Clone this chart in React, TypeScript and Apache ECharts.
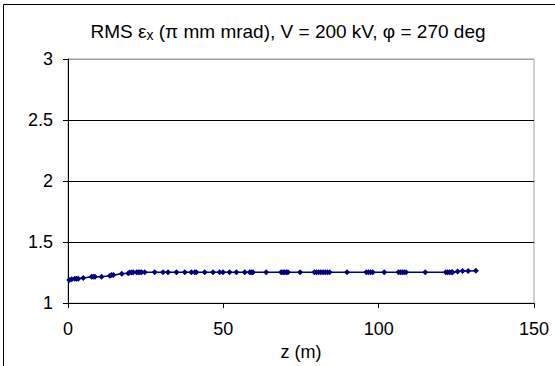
import React, { useEffect, useRef } from "react";
import * as echarts from "echarts";

const zValues = [
  0.4, 1.2, 2.2, 2.8, 3.3, 4.9, 7.6, 8.1, 8.7, 10.8, 13.5, 14.0, 14.6, 17.3, 19.4, 19.9,
  20.5, 21.0, 22.1, 22.6, 23.1, 23.7, 24.7, 27.9, 30.6, 32.2, 34.9, 37.6, 39.7, 40.8,
  41.3, 44.0, 46.7, 48.8, 49.9, 52.0, 54.2, 56.9, 58.5, 59.0, 59.5, 63.8, 68.6, 69.2,
  69.7, 70.3, 70.8, 74.7, 79.3, 80.0, 80.7, 81.4, 82.1, 82.8, 83.5, 84.2, 89.8, 96.0,
  96.7, 97.4, 98.1, 101.8, 106.4, 107.0, 107.6, 108.2, 108.8, 115.0, 121.6, 122.2,
  122.8, 123.4, 123.8, 125.4, 127.0, 128.8, 131.3,
];
const emittance = [
  1.19, 1.195, 1.2, 1.2, 1.2, 1.205, 1.215, 1.215, 1.215, 1.215, 1.225, 1.23, 1.23, 1.24,
  1.245, 1.25, 1.25, 1.252, 1.252, 1.252, 1.253, 1.253, 1.253, 1.253, 1.253, 1.253,
  1.253, 1.253, 1.253, 1.253, 1.253, 1.253, 1.253, 1.253, 1.253, 1.253, 1.253, 1.253,
  1.253, 1.253, 1.253, 1.253, 1.253, 1.253, 1.253, 1.253, 1.253, 1.253, 1.253, 1.253,
  1.253, 1.253, 1.253, 1.253, 1.253, 1.253, 1.253, 1.253, 1.253, 1.253, 1.253, 1.253,
  1.253, 1.253, 1.253, 1.253, 1.253, 1.253, 1.253, 1.253, 1.253, 1.253, 1.253, 1.258,
  1.262, 1.264, 1.265,
];
const xTicks = [0, 50, 100, 150];
const yTicks = [1, 1.5, 2, 2.5, 3];
const titleMain = "RMS ε";
const titleSub = "x";
const titleRest = " (π mm mrad), V = 200 kV, φ = 270 deg";
const xName = "z (m)";

const FONT = "'Liberation Sans', Arial, sans-serif";

export default function App() {
  const ref = useRef<HTMLDivElement>(null);
  useEffect(() => {
    document.body.style.margin = "0";
    if (!ref.current) return;
    const chart = echarts.init(ref.current, undefined, { renderer: "svg" });
    const data = zValues.map((z, i) => [z, emittance[i]]);
    chart.setOption({
      animation: false,
      backgroundColor: "#fff",
      textStyle: { fontFamily: FONT },
      grid: {
        left: 68,
        right: 21,
        top: 59,
        bottom: 55,
        show: true,
        borderColor: "#a0a0a0",
        borderWidth: 1,
        containLabel: false,
      },
      graphic: [
        {
          type: "rect",
          shape: { x: 3.5, y: 4.5, width: 600, height: 400 },
          style: { fill: "none", stroke: "#000", lineWidth: 1 },
          silent: true,
          z: 100,
        },
        {
          type: "text",
          x: 288,
          y: 31,
          style: {
            text: `{a|${titleMain}}{s|${titleSub}}{a|${titleRest}}`,
            align: "center",
            verticalAlign: "middle",
            fill: "#000",
            rich: {
              a: { fontSize: 19, fontFamily: FONT, fill: "#000", lineHeight: 22 },
              s: {
                fontSize: 14,
                fontFamily: FONT,
                fill: "#000",
                lineHeight: 22,
                padding: [7, 0, 0, 0],
              },
            },
          },
        },
      ],
      xAxis: {
        type: "value",
        min: xTicks[0],
        max: xTicks[xTicks.length - 1],
        interval: 50,
        name: xName,
        nameLocation: "middle",
        nameGap: 27,
        nameTextStyle: { fontSize: 18, color: "#000", fontFamily: FONT },
        axisLine: { show: true, onZero: false, lineStyle: { color: "#000", width: 1 } },
        axisTick: { show: true, inside: false, length: 5, lineStyle: { color: "#000" } },
        axisLabel: { fontSize: 18, color: "#000", margin: 17, fontFamily: FONT },
        splitLine: { show: false },
      },
      yAxis: {
        type: "value",
        min: yTicks[0],
        max: yTicks[yTicks.length - 1],
        interval: 0.5,
        axisLine: { show: true, onZero: false, lineStyle: { color: "#000", width: 1 } },
        axisTick: { show: true, inside: false, length: 5, lineStyle: { color: "#000" } },
        axisLabel: { fontSize: 18, color: "#000", margin: 15, fontFamily: FONT },
        splitLine: {
          show: true,
          lineStyle: { color: ["#000", "#000", "#000", "#000", "#a0a0a0"], width: 1 },
        },
      },
      series: [
        {
          type: "line",
          data,
          symbol: "diamond",
          symbolSize: 6,
          showSymbol: true,
          itemStyle: { color: "#000080" },
          lineStyle: { color: "#000080", width: 1.5 },
        },
      ],
    });
    return () => chart.dispose();
  }, []);
  return <div ref={ref} style={{ width: 555, height: 366 }} />;
}
